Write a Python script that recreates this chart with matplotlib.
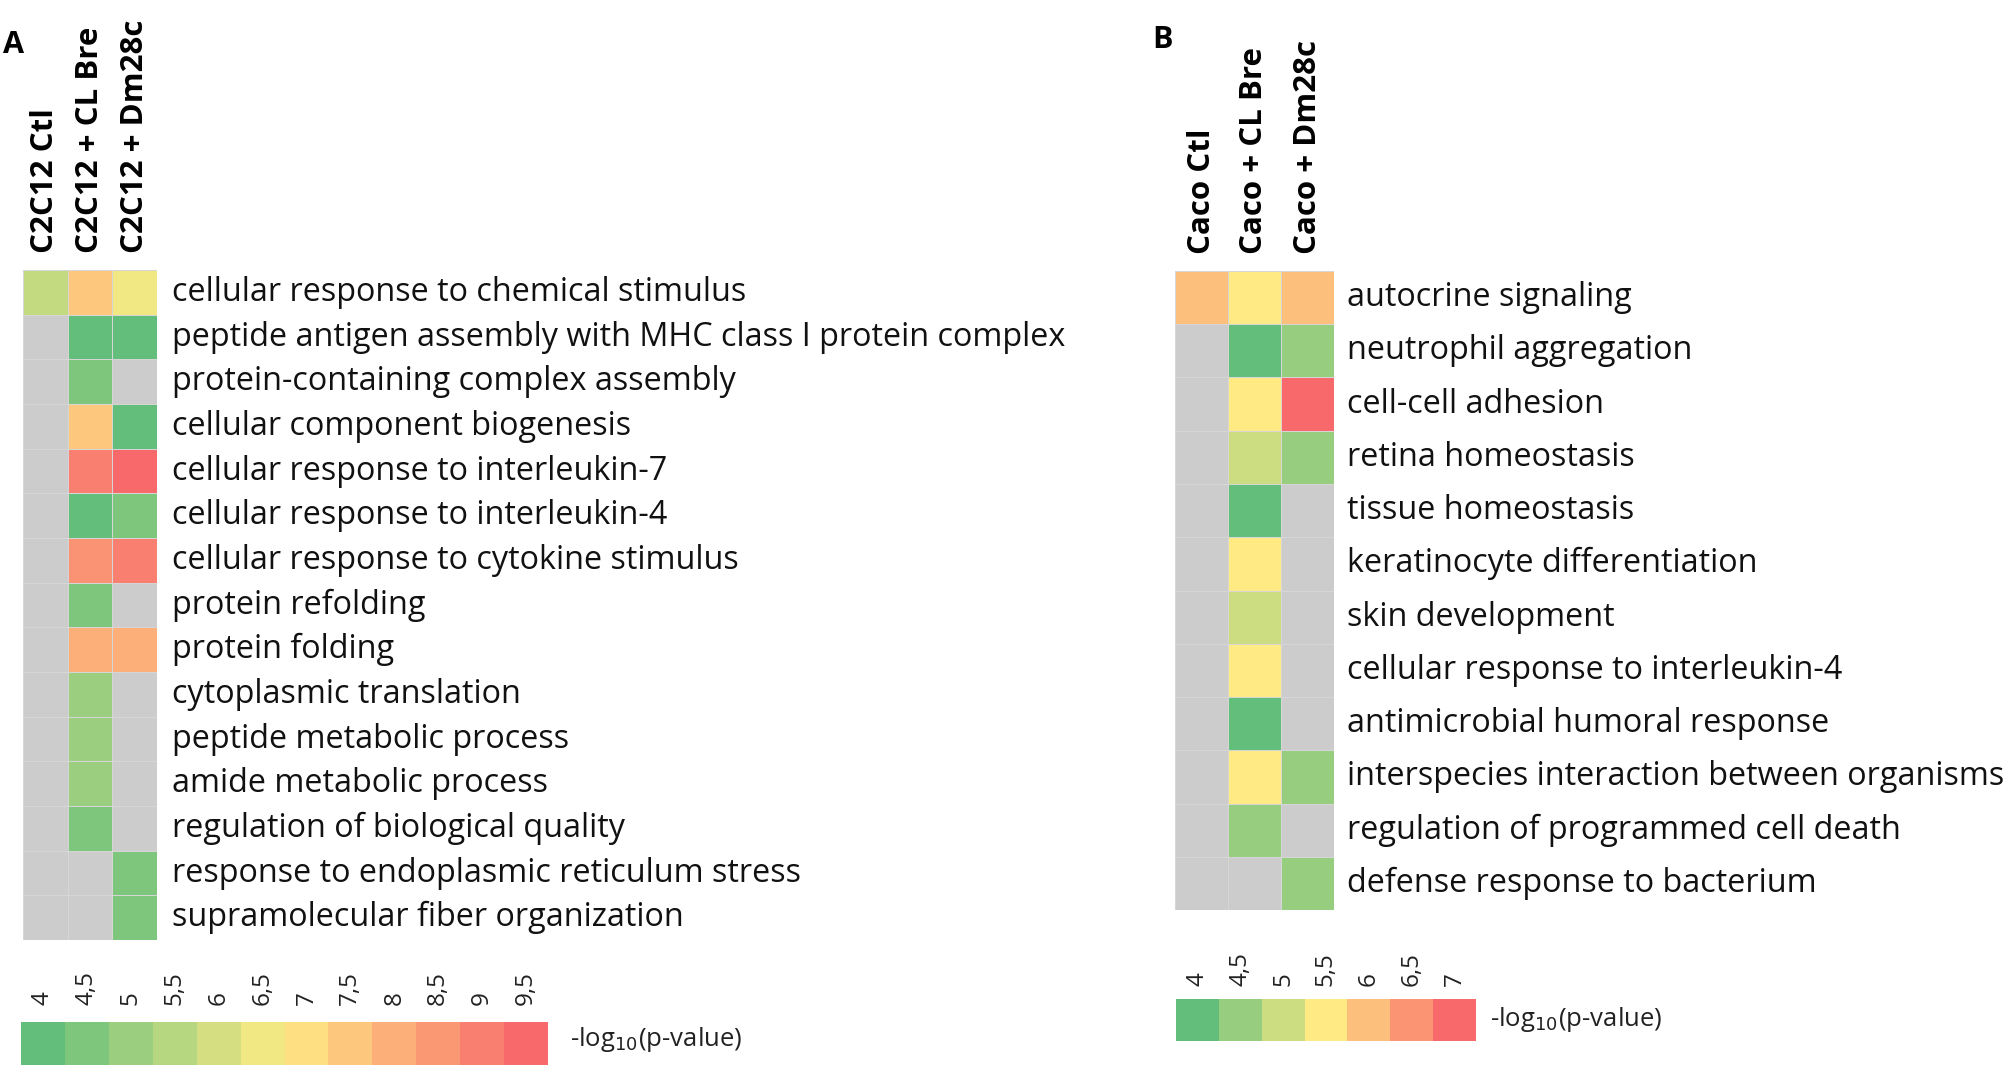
import matplotlib.pyplot as plt
import matplotlib.transforms as mtransforms
import numpy as np
from matplotlib.colors import LinearSegmentedColormap, Normalize

plt.rcParams['font.family'] = ['Open Sans', 'DejaVu Sans']

W, H = 2007, 1083

# panel A data (-log10 p-value, nan = not significant)
cols_a = ['C2C12 Ctl', 'C2C12 + CL Bre', 'C2C12 + Dm28c']
terms_a = [
    'cellular response to chemical stimulus',
    'peptide antigen assembly with MHC class I protein complex',
    'protein-containing complex assembly',
    'cellular component biogenesis',
    'cellular response to interleukin-7',
    'cellular response to interleukin-4',
    'cellular response to cytokine stimulus',
    'protein refolding',
    'protein folding',
    'cytoplasmic translation',
    'peptide metabolic process',
    'amide metabolic process',
    'regulation of biological quality',
    'response to endoplasmic reticulum stress',
    'supramolecular fiber organization',
]
ctl_a = [5.7, np.nan, np.nan, np.nan, np.nan, np.nan, np.nan, np.nan,
         np.nan, np.nan, np.nan, np.nan, np.nan, np.nan, np.nan]
clbre_a = [7.5, 4.0, 4.5, 7.5, 9.0, 4.0, 8.6, 4.5, 8.0, 5.0, 5.0, 5.0, 4.5,
           np.nan, np.nan]
dm_a = [6.5, 4.0, np.nan, 4.0, 9.5, 4.5, 9.0, np.nan, 8.0, np.nan, np.nan,
        np.nan, np.nan, 4.5, 4.5]
ticks_a = [4, 4.5, 5, 5.5, 6, 6.5, 7, 7.5, 8, 8.5, 9, 9.5]

# panel B data
cols_b = ['Caco Ctl', 'Caco + CL Bre', 'Caco + Dm28c']
terms_b = [
    'autocrine signaling',
    'neutrophil aggregation',
    'cell-cell adhesion',
    'retina homeostasis',
    'tissue homeostasis',
    'keratinocyte differentiation',
    'skin development',
    'cellular response to interleukin-4',
    'antimicrobial humoral response',
    'interspecies interaction between organisms',
    'regulation of programmed cell death',
    'defense response to bacterium',
]
ctl_b = [6.0] + [np.nan] * 11
clbre_b = [5.5, 4.0, 5.5, 5.0, 4.0, 5.5, 5.0, 5.5, 4.0, 5.5, 4.5, np.nan]
dm_b = [6.0, 4.5, 7.0, 4.5, np.nan, np.nan, np.nan, np.nan, np.nan, 4.5,
        np.nan, 4.5]
ticks_b = [4, 4.5, 5, 5.5, 6, 6.5, 7]

cmap = LinearSegmentedColormap.from_list('gyr', ['#63BE7B', '#FFEB84', '#F8696B'])
cmap.set_bad('#CCCCCC')

fig = plt.figure(figsize=(W / 100, H / 100), dpi=100)


def px_axes(x0, y0, x1, y1):
    return fig.add_axes([x0 / W, 1 - y1 / H, (x1 - x0) / W, (y1 - y0) / H])


def heatmap(box, cols, terms, data, vmin, vmax, ypad):
    ax = px_axes(*box)
    m = np.ma.masked_invalid(np.array(data).T)
    norm = Normalize(vmin, vmax)
    ax.pcolormesh(m, cmap=cmap, norm=norm, edgecolors='#D6D6D6', linewidth=0.6)
    ax.set_xlim(0, len(cols))
    ax.set_ylim(len(terms), 0)
    ax.set_xticks(np.arange(len(cols)) + 0.5)
    ax.set_xticklabels(cols, rotation=90, fontsize=22.5, fontweight='bold')
    ax.xaxis.tick_top()
    ax.set_yticks(np.arange(len(terms)) + 0.5)
    ax.set_yticklabels(terms, fontsize=23.3, color='#111111')
    ax.yaxis.tick_right()
    ax.tick_params(length=0)
    ax.tick_params(axis='x', pad=12)
    ax.tick_params(axis='y', pad=ypad)
    # nudge row labels up a little
    shift = mtransforms.ScaledTranslation(0, 4 / 100, fig.dpi_scale_trans)
    for lab in ax.get_yticklabels():
        lab.set_transform(lab.get_transform() + shift)
    for s in ax.spines.values():
        s.set_visible(False)
    return norm


def legend_bar(box, ticks, norm, label_x, label_y, pad):
    ax = px_axes(*box)
    vals = np.array(ticks)
    edges = np.concatenate([vals - 0.25, [vals[-1] + 0.25]])
    ax.pcolormesh(edges, [0, 1], vals[None, :], cmap=cmap, norm=norm)
    ax.set_xlim(edges[0], edges[-1])
    ax.set_ylim(0, 1)
    ax.set_xticks(vals)
    ax.set_xticklabels([str(t).replace('.', ',') for t in ticks], rotation=90,
                       fontsize=17.5, color='#222222')
    ax.xaxis.tick_top()
    ax.set_yticks([])
    ax.tick_params(length=0, pad=pad)
    for s in ax.spines.values():
        s.set_visible(False)
    fig.text(label_x / W, 1 - label_y / H, '-log$_{10}$(p-value)', fontsize=18.5,
             va='center', ha='left', color='#222222')


norm_a = heatmap((23, 270, 157, 940), cols_a, terms_a, [ctl_a, clbre_a, dm_a], 4, 9.5, 11)
norm_b = heatmap((1175, 271, 1334, 910), cols_b, terms_b, [ctl_b, clbre_b, dm_b], 4, 7, 9)

legend_bar((21, 1022, 548, 1065), ticks_a, norm_a, 570, 1040, 12)
legend_bar((1176, 999, 1476, 1041), ticks_b, norm_b, 1490, 1019, 9)

fig.text(3 / W, 1 - 45 / H, 'A', fontsize=22, fontweight='bold', va='center')
fig.text(1152 / W, 1 - 40 / H, 'B', fontsize=22, fontweight='bold', va='center')

fig.savefig('out.png', dpi=100)
